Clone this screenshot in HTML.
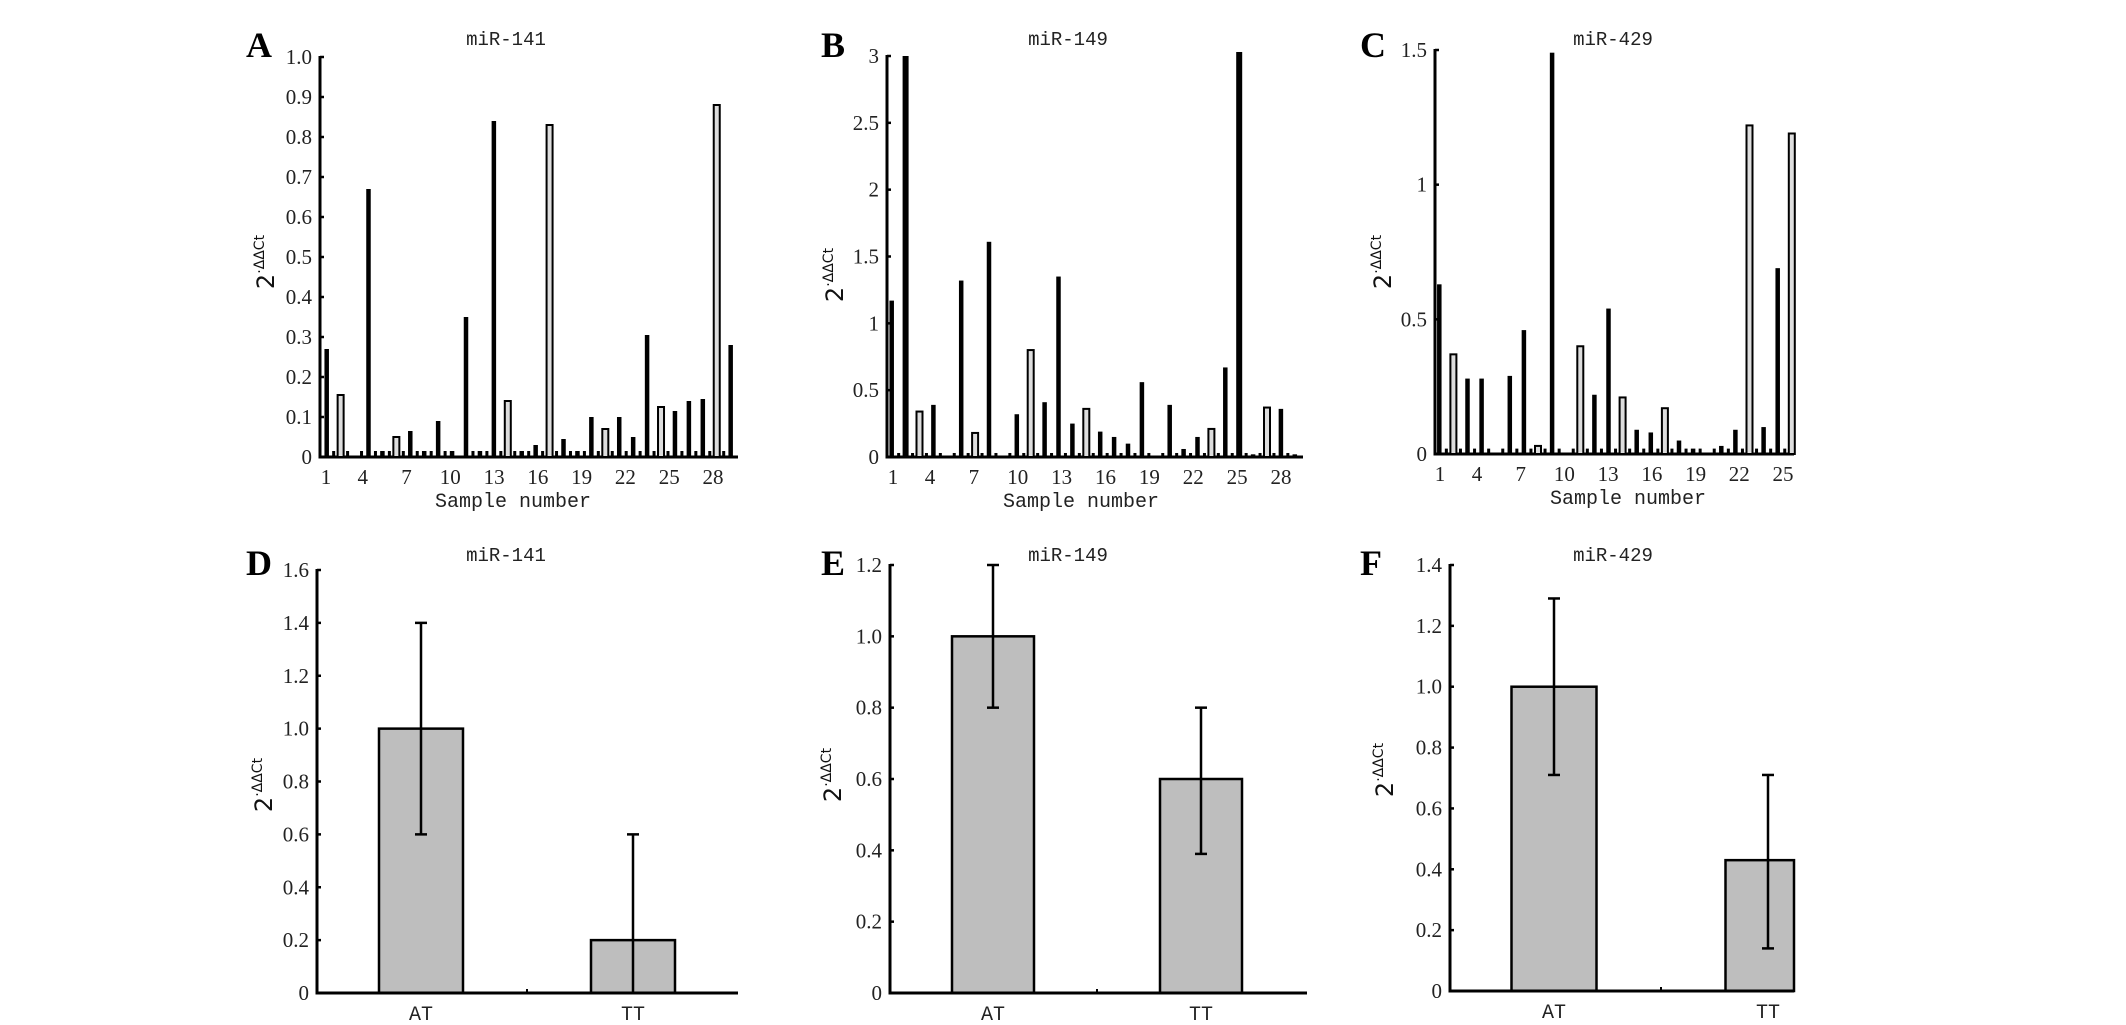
<!DOCTYPE html>
<html><head><meta charset="utf-8"><style>
html,body{margin:0;padding:0;background:#fff;}
svg{display:block;}
.tk{font-family:"Liberation Serif",serif;font-size:21px;fill:#222;}
.ttl{font-family:"Liberation Mono",monospace;font-size:19px;fill:#222;}
.lt{font-family:"Liberation Serif",serif;font-size:36px;font-weight:bold;fill:#000;}
</style></head><body>
<svg id="fig" width="2126" height="1025" viewBox="0 0 2126 1025" xmlns="http://www.w3.org/2000/svg"></svg>
<script>
// Panel A miR-141 per-sample values
const aValues=[0.27,0.155,0,0.67,0.015,0.05,0.065,0.015,0.09,0.015,0.35,0.015,0.84,0.14,0.015,0.03,0.83,0.045,0.015,0.10,0.07,0.10,0.05,0.305,0.125,0.115,0.14,0.145,0.88,0.28];
const aHollow=[0,1,0,0,0,1,0,0,0,0,0,0,0,1,0,0,1,0,0,0,1,0,0,0,1,0,0,0,1,0];
const aSmall=[0.015,0.015,0.015,0.015,0.015,0.015,0.015,0.015,0.015,0,0.015,0.015,0.015,0.015,0.015,0.015,0.015,0.015,0.015,0.015,0.015,0.015,0.015,0.015,0.015,0.015,0.015,0.015,0.015,0];
const aTicks=[0,0.1,0.2,0.3,0.4,0.5,0.6,0.7,0.8,0.9,1.0];
const aTickLabels=["0","0.1","0.2","0.3","0.4","0.5","0.6","0.7","0.8","0.9","1.0"];
// Panel B miR-149
const bValues=[1.17,3.0,0.34,0.39,0,1.32,0.18,1.61,0.01,0.32,0.80,0.41,1.35,0.25,0.36,0.19,0.15,0.10,0.56,0,0.39,0.06,0.15,0.21,0.67,3.03,0.02,0.37,0.36,0.02];
const bHollow=[0,0,1,0,0,0,1,0,0,0,1,0,0,0,1,0,0,0,0,0,0,0,0,1,0,0,0,1,0,0];
const bSmall=[0.03,0.03,0.03,0.03,0.03,0.03,0.03,0.03,0.03,0.03,0.03,0.03,0.03,0.03,0.03,0.03,0.03,0.03,0.03,0.03,0.03,0.03,0.03,0.03,0.03,0.03,0.03,0.03,0.03,0];
const bTicks=[0,0.5,1,1.5,2,2.5,3];
const bTickLabels=["0","0.5","1","1.5","2","2.5","3"];
// Panel C miR-429
const cValues=[0.63,0.37,0.28,0.28,0,0.29,0.46,0.03,1.49,0,0.40,0.22,0.54,0.21,0.09,0.08,0.17,0.05,0.02,0,0.03,0.09,1.22,0.10,0.69,1.19];
const cHollow=[0,1,0,0,0,0,0,1,0,0,1,0,0,1,0,0,1,0,0,0,0,0,1,0,0,1];
const cSmall=[0.02,0.02,0.02,0.02,0.02,0.02,0.02,0.02,0.02,0.02,0.02,0.02,0.02,0.02,0.02,0.02,0.02,0.02,0.02,0.02,0.02,0.02,0.02,0.02,0.02,0];
const cTicks=[0,0.5,1,1.5];
const cTickLabels=["0","0.5","1","1.5"];
const sampleLabels=["1","4","7","10","13","16","19","22","25","28"];
const sampleLabelsC=["1","4","7","10","13","16","19","22","25"];
// Bottom panels
const groups=["AT","TT"];
const dMeans=[1.0,0.2];
const dLow=[0.6,0.0];
const dHigh=[1.4,0.6];
const dTicks=[0,0.2,0.4,0.6,0.8,1.0,1.2,1.4,1.6];
const dTickLabels=["0","0.2","0.4","0.6","0.8","1.0","1.2","1.4","1.6"];
const eMeans=[1.0,0.6];
const eLow=[0.8,0.39];
const eHigh=[1.2,0.8];
const eTicks=[0,0.2,0.4,0.6,0.8,1.0,1.2];
const eTickLabels=["0","0.2","0.4","0.6","0.8","1.0","1.2"];
const fMeans=[1.0,0.43];
const fLow=[0.71,0.14];
const fHigh=[1.29,0.71];
const fTicks=[0,0.2,0.4,0.6,0.8,1.0,1.2,1.4];
const fTickLabels=["0","0.2","0.4","0.6","0.8","1.0","1.2","1.4"];

const NS="http://www.w3.org/2000/svg";
const svg=document.getElementById('fig');
function mk(tag,attrs,parent,text){const e=document.createElementNS(NS,tag);for(const k in attrs)e.setAttribute(k,attrs[k]);if(text!==undefined)e.textContent=text;(parent||svg).appendChild(e);return e;}
function lin(d0,d1,r0,r1){return v=>r0+(v-d0)*(r1-r0)/(d1-d0);}

function frame(g,cfg){
  const y=cfg.y;
  const ax=mk('line',{x1:cfg.ax,y1:y(cfg.ymax)-1,x2:cfg.ax,y2:cfg.y0+1.5,stroke:'#000','stroke-width':3},g);
  
  const xl=mk('line',{x1:cfg.ax-1.5,y1:cfg.y0,x2:cfg.axEnd,y2:cfg.y0,stroke:'#000','stroke-width':3},g);
  
  cfg.ticks.forEach((t,i)=>{
    const tl=mk('line',{x1:cfg.ax,y1:y(t),x2:cfg.ax+4,y2:y(t),stroke:'#000','stroke-width':2.5},g);
    
    const tx=mk('text',{x:cfg.ax-8,y:y(t)+7,'text-anchor':'end',class:'tk'},g,cfg.tickLabels[i]);
    
  });
  const tt=mk('text',{x:cfg.titleX,y:cfg.titleY,'text-anchor':'middle',class:'ttl'},g,cfg.title);
  
  const lt=mk('text',{x:cfg.letterX,y:cfg.letterY,class:'lt'},g,cfg.letter);
  
  const yl=mk('text',{transform:`translate(${cfg.ylX},${cfg.ylY}) rotate(-90)`,'text-anchor':'middle',style:'font-family:"DejaVu Sans",sans-serif;font-size:24px;fill:#111'},g);
  
  mk('tspan',{},yl,'2');
  mk('tspan',{dy:-10,style:'font-size:14px'},yl,'·ΔΔCt');
}

function samplePanel(cfg,values,hollow,small,labels){
  const g=mk('g',{});
  
  cfg.y=lin(0,cfg.ymax,cfg.y0,cfg.yTop);
  frame(g,cfg);
  const x=i=>cfg.x0+i*cfg.step;
  values.forEach((v,i)=>{
    if(v>0){
      const h=cfg.y0-cfg.y(v);
      if(hollow[i]){
        const r=mk('rect',{x:x(i)-3,y:cfg.y(v),width:6,height:h,fill:'#ddd',stroke:'#000','stroke-width':2},g);
        
      }else{
        const w=v>=cfg.wideAt?6:4.5;
        const r=mk('rect',{x:x(i)-w/2,y:cfg.y(v),width:w,height:h,fill:'#000'},g);
        
      }
    }
    if(small[i]>0){
      const s=mk('rect',{x:x(i)+cfg.step/2-1.5,y:cfg.y(small[i]),width:3,height:cfg.y0-cfg.y(small[i]),fill:'#000'},g);
      
    }
  });
  const xt=lin(cfg.lab0v,cfg.lab1v,cfg.lab0x,cfg.lab1x);
  labels.forEach(l=>{
    let px=xt(+l); if(l==="1") px=cfg.lab1pos;
    const t=mk('text',{x:px,y:cfg.y0+27,'text-anchor':'middle',class:'tk'},g,l);
    
  });
  const xt2=mk('text',{x:cfg.xtX,y:cfg.y0+50,'text-anchor':'middle',class:'ttl',style:'font-size:20px'},g,'Sample number');
  
}

function groupPanel(cfg,means,low,high){
  const g=mk('g',{});
  
  cfg.y=lin(0,cfg.ymax,cfg.y0,cfg.yTop);
  const xc=i=>cfg.c0+i*(cfg.c1-cfg.c0);
  means.forEach((m,i)=>{
    let l=xc(i)-cfg.bw/2, r=Math.min(xc(i)+cfg.bw/2,cfg.axEnd);
    const b=mk('rect',{x:l,y:cfg.y(m),width:r-l,height:cfg.y0-cfg.y(m),fill:'#bebebe',stroke:'#000','stroke-width':2.5},g);
    
    const e=mk('line',{x1:xc(i),y1:cfg.y(high[i]),x2:xc(i),y2:cfg.y(low[i]),stroke:'#000','stroke-width':2.5},g);
    
    [high[i],low[i]].forEach(v=>{ if(v>0){
      const c=mk('line',{x1:xc(i)-6,y1:cfg.y(v),x2:xc(i)+6,y2:cfg.y(v),stroke:'#000','stroke-width':2.5},g);
      }});
    const t=mk('text',{x:xc(i),y:cfg.y0+27,'text-anchor':'middle',class:'ttl',style:'font-size:20px'},g,groups[i]);
    
  });
  frame(g,cfg);
  const mt=mk('line',{x1:(xc(0)+xc(1))/2,y1:cfg.y0-4,x2:(xc(0)+xc(1))/2,y2:cfg.y0,stroke:'#000','stroke-width':2},g);
  
}

samplePanel({letter:'A',title:'miR-141',ax:320,axEnd:738,y0:457,yTop:57,ymax:1.0,ticks:aTicks,tickLabels:aTickLabels,
  x0:326.7,step:13.93,wideAt:99,lab0v:4,lab1v:28,lab0x:362.7,lab1x:713,lab1pos:326,xtX:513,
  titleX:506,titleY:45,letterX:246,letterY:57,ylX:274,ylY:262},aValues,aHollow,aSmall,sampleLabels);
samplePanel({letter:'B',title:'miR-149',ax:887,axEnd:1303,y0:457,yTop:56,ymax:3,ticks:bTicks,tickLabels:bTickLabels,
  x0:891.7,step:13.9,wideAt:2.9,lab0v:4,lab1v:28,lab0x:930,lab1x:1281,lab1pos:893,xtX:1081,
  titleX:1068,titleY:45,letterX:821,letterY:57,ylX:843,ylY:275},bValues,bHollow,bSmall,sampleLabels);
samplePanel({letter:'C',title:'miR-429',ax:1435,axEnd:1794,y0:454,yTop:50,ymax:1.5,ticks:cTicks,tickLabels:cTickLabels,
  x0:1439.3,step:14.1,wideAt:99,lab0v:4,lab1v:25,lab0x:1477,lab1x:1783,lab1pos:1440,xtX:1628,
  titleX:1613,titleY:45,letterX:1360,letterY:57,ylX:1391,ylY:262},cValues,cHollow,cSmall,sampleLabelsC);

groupPanel({letter:'D',title:'miR-141',ax:317,axEnd:738,y0:993,yTop:570,ymax:1.6,ticks:dTicks,tickLabels:dTickLabels,
  c0:421,c1:633,bw:84,titleX:506,titleY:561,letterX:246,letterY:575,ylX:272,ylY:785},dMeans,dLow,dHigh);
groupPanel({letter:'E',title:'miR-149',ax:890,axEnd:1307,y0:993,yTop:565,ymax:1.2,ticks:eTicks,tickLabels:eTickLabels,
  c0:993,c1:1201,bw:82,titleX:1068,titleY:561,letterX:821,letterY:575,ylX:841,ylY:775},eMeans,eLow,eHigh);
groupPanel({letter:'F',title:'miR-429',ax:1450,axEnd:1794,y0:991,yTop:565,ymax:1.4,ticks:fTicks,tickLabels:fTickLabels,
  c0:1554,c1:1768,bw:85,titleX:1613,titleY:561,letterX:1360,letterY:575,ylX:1393,ylY:770},fMeans,fLow,fHigh);
</script>
</body></html>
